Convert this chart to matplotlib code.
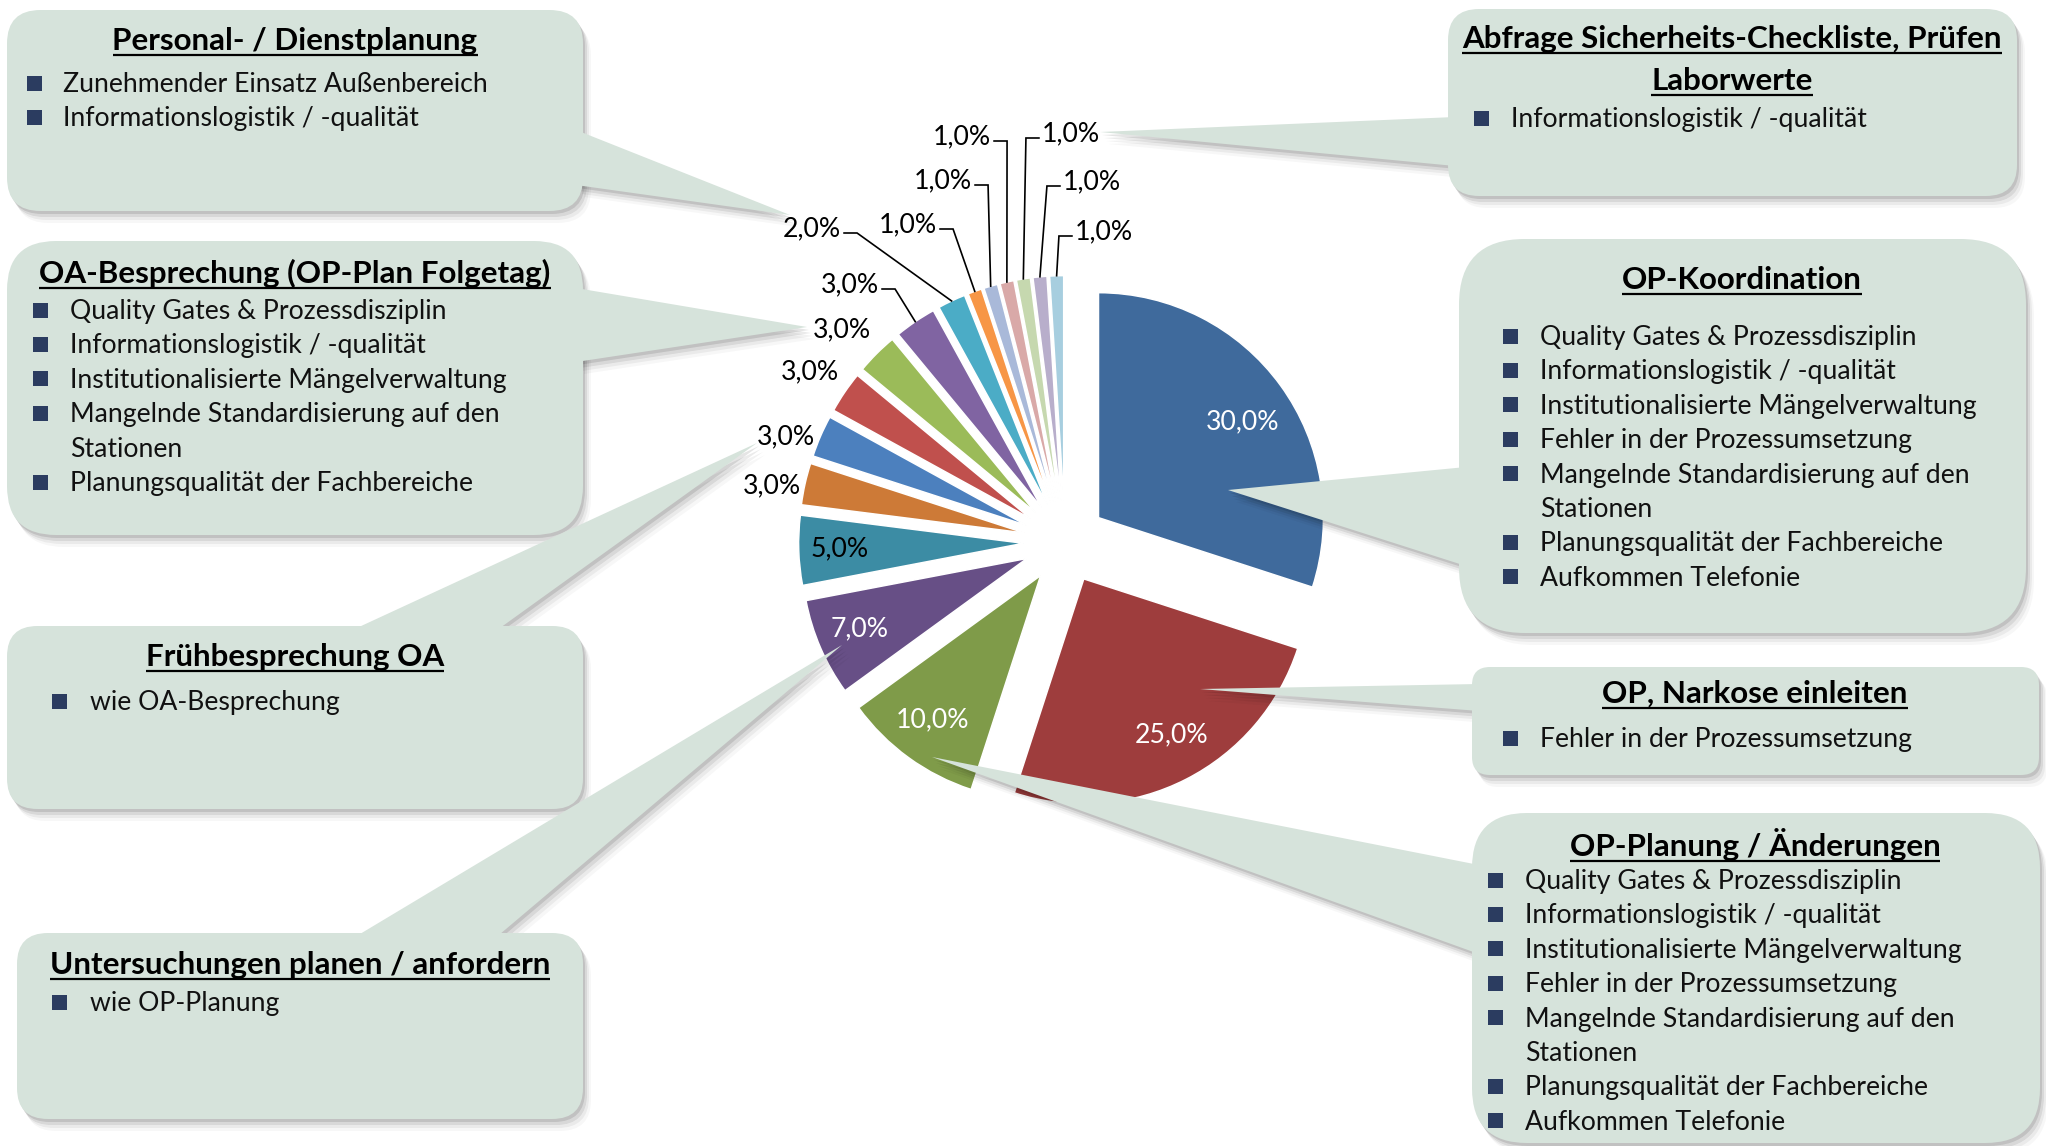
import matplotlib
matplotlib.use("Agg")
import matplotlib.pyplot as plt
from matplotlib.patches import FancyBboxPatch, Polygon, Rectangle
import numpy as np

# ---------------------------------------------------------------- data
shares = [30, 25, 10, 7, 5, 3, 3, 3, 3, 3, 2, 1, 1, 1, 1, 1, 1]
slice_colors = ["#3F6A9C", "#9E3D3D", "#7F9B49", "#674F86", "#3C8CA4", "#CD7A37",
                "#4C80BE", "#C0504D", "#9BBB59", "#8064A2", "#4BACC6", "#F79646",
                "#A9B9D9", "#D9A9A8", "#C6D8AF", "#B8AECB", "#A7CEDF"]
value_labels = [f"{v:.1f}".replace(".", ",") + "%" for v in shares]
label_colors = ["white"] * 4 + ["black"] * 13

callout_titles = [
    ["Personal- / Dienstplanung"],
    ["OA-Besprechung (OP-Plan Folgetag)"],
    ["Frühbesprechung OA"],
    ["Untersuchungen planen / anfordern"],
    ["Abfrage Sicherheits-Checkliste, Prüfen", "Laborwerte"],
    ["OP-Koordination"],
    ["OP, Narkose einleiten"],
    ["OP-Planung / Änderungen"],
]
callout_items = [
    ["Zunehmender Einsatz Außenbereich", "Informationslogistik / -qualität"],
    ["Quality Gates & Prozessdisziplin", "Informationslogistik / -qualität",
     "Institutionalisierte Mängelverwaltung",
     "Mangelnde Standardisierung auf den\nStationen",
     "Planungsqualität der Fachbereiche"],
    ["wie OA-Besprechung"],
    ["wie OP-Planung"],
    ["Informationslogistik / -qualität"],
    ["Quality Gates & Prozessdisziplin", "Informationslogistik / -qualität",
     "Institutionalisierte Mängelverwaltung", "Fehler in der Prozessumsetzung",
     "Mangelnde Standardisierung auf den\nStationen",
     "Planungsqualität der Fachbereiche", "Aufkommen Telefonie"],
    ["Fehler in der Prozessumsetzung"],
    ["Quality Gates & Prozessdisziplin", "Informationslogistik / -qualität",
     "Institutionalisierte Mängelverwaltung", "Fehler in der Prozessumsetzung",
     "Mangelnde Standardisierung auf den\nStationen",
     "Planungsqualität der Fachbereiche", "Aufkommen Telefonie"],
]

# ---------------------------------------------------------------- layout (pixels, measured from the top)
W, H = 2046, 1146
DPI = 100
FONT = "Lato"
BODY_SIZE = 19.2
TITLE_SIZE = 22.6
LINE_STEP = 34.4
BOX_FILL = "#D6E3DB"
BULLET_COLOR = "#2B3C60"
BULLET_SIZE = 15

PIE_CX, PIE_CY, PIE_R = 1065, 542, 225
EXPLODE = 0.184

# centre of every value label
label_xy = [(1243, 422), (1172, 735), (933, 720), (860, 629), (840, 549),
            (772, 486), (786, 437), (810, 372), (842, 330), (850, 285),
            (812, 229), (908, 225), (943, 181), (962, 137), (1071, 134),
            (1092, 182), (1104, 232)]
# leader lines: side of the label where the line leaves (None = no leader)
leader_side = [None] * 9 + ["right"] * 5 + ["left"] * 3

callout_layout = [
    dict(box=(7, 10, 583, 211), title=[(295, 40)], bx=34, tx=63, y0=84,
         base=[(576, 130), (576, 185)], tip=(790, 215)),
    dict(box=(7, 241, 583, 535), title=[(295, 273)], bx=40, tx=70, y0=311,
         base=[(576, 288), (576, 362)], tip=(807, 327)),
    dict(box=(7, 626, 583, 809), title=[(295, 656)], bx=59, tx=90, y0=702,
         base=[(346, 633), (493, 633)], tip=(757, 443)),
    dict(box=(17, 933, 583, 1119), title=[(300, 964)], bx=59, tx=90, y0=1003,
         base=[(350, 940), (493, 940)], tip=(842, 645)),
    dict(box=(1448, 9, 2017, 196), title=[(1732, 38), (1732, 80)], bx=1481, tx=1511, y0=119,
         base=[(1455, 117), (1455, 166)], tip=(1100, 132)),
    dict(box=(1459, 239, 2026, 633), title=[(1742, 279)], bx=1510, tx=1540, y0=337,
         base=[(1466, 467), (1466, 566)], tip=(1228, 490)),
    dict(box=(1472, 667, 2039, 775), title=[(1755, 693)], bx=1510, tx=1540, y0=739,
         base=[(1479, 684), (1479, 711)], tip=(1200, 689)),
    dict(box=(1472, 813, 2040, 1143), title=[(1755, 846)], bx=1495, tx=1525, y0=881,
         base=[(1479, 865), (1479, 954)], tip=(932, 757)),
]


def Y(y):
    """Convert a top-down pixel row into overlay data coordinates."""
    return H - y


fig = plt.figure(figsize=(W / DPI, H / DPI), dpi=DPI, facecolor="white")

# overlay axes: one data unit is one pixel
ax = fig.add_axes([0, 0, 1, 1], zorder=2)
ax.set_xlim(0, W)
ax.set_ylim(0, H)
ax.axis("off")
ax.patch.set_alpha(0)

# pie axes, one data unit equals PIE_R pixels
S = 1.3
axp = fig.add_axes([(PIE_CX - S * PIE_R) / W, (H - PIE_CY - S * PIE_R) / H,
                    2 * S * PIE_R / W, 2 * S * PIE_R / H], zorder=1)
wedges, _ = axp.pie(shares, colors=slice_colors, startangle=90, counterclock=False,
                    explode=[EXPLODE] * len(shares),
                    wedgeprops=dict(edgecolor="white", linewidth=1.1))
axp.set_xlim(-S, S)
axp.set_ylim(-S, S)
axp.set_aspect("equal")
axp.axis("off")


def pie_to_px(x, y):
    return PIE_CX + PIE_R * x, H - PIE_CY + PIE_R * y


# ---------------------------------------------------------------- callouts
def box_patch(x0, y0, x1, y1, dx=0, dy=0, **kw):
    w, h = x1 - x0, y1 - y0
    r = min(w, h) * 0.1667
    return FancyBboxPatch((x0 + dx, Y(y1) + dy), w, h,
                          boxstyle=f"round,pad=0,rounding_size={r}", **kw)


def pointer_patch(base, tip, dx=0, dy=0, **kw):
    pts = [(base[0][0] + dx, Y(base[0][1]) + dy), (tip[0] + dx, Y(tip[1]) + dy),
           (base[1][0] + dx, Y(base[1][1]) + dy)]
    return Polygon(pts, closed=True, **kw)


shadow_layers = [(2, -3, 0.10), (4, -6, 0.08), (6, -9, 0.05), (8, -12, 0.03)]
for lay in callout_layout:
    for dx, dy, a in shadow_layers:
        ax.add_patch(box_patch(*lay["box"], dx=dx, dy=dy, facecolor="black",
                               edgecolor="none", alpha=a, zorder=1))
        ax.add_patch(pointer_patch(lay["base"], lay["tip"], dx=dx, dy=dy,
                                   facecolor="black", edgecolor="none", alpha=a, zorder=1))

for lay in callout_layout:
    ax.add_patch(box_patch(*lay["box"], facecolor=BOX_FILL, edgecolor="none", zorder=2))
    ax.add_patch(pointer_patch(lay["base"], lay["tip"], facecolor=BOX_FILL,
                               edgecolor="none", zorder=2))

renderer = fig.canvas.get_renderer()

for lay, titles, items in zip(callout_layout, callout_titles, callout_items):
    for (cx, cy), line in zip(lay["title"], titles):
        t = ax.text(cx, Y(cy + 10), line, ha="center", va="baseline", fontsize=TITLE_SIZE,
                    fontweight="bold", family=FONT, color="black", zorder=4)
        bb = t.get_window_extent(renderer)
        ax.plot([bb.x0, bb.x1], [Y(cy + 15), Y(cy + 15)], color="black", lw=1.6,
                solid_capstyle="butt", zorder=4)
    row = 0
    for item in items:
        yline = lay["y0"] + row * LINE_STEP
        half = BULLET_SIZE / 2
        ax.add_patch(Rectangle((lay["bx"] - half, Y(yline - 1) - half), BULLET_SIZE, BULLET_SIZE,
                               facecolor=BULLET_COLOR, edgecolor="none", zorder=4))
        for sub in item.split("\n"):
            yline = lay["y0"] + row * LINE_STEP
            ax.text(lay["tx"], Y(yline + 8), sub, ha="left", va="baseline",
                    fontsize=BODY_SIZE, family=FONT, color="#111111", zorder=4)
            row += 1

# ---------------------------------------------------------------- value labels and leader lines
for w, txt, col, (lx, ly), side in zip(wedges, value_labels, label_colors, label_xy, leader_side):
    t = ax.text(lx, Y(ly), txt, ha="center", va="center", fontsize=BODY_SIZE,
                family=FONT, color=col, zorder=5)
    if side is None:
        continue
    bb = t.get_window_extent(renderer)
    mid = np.deg2rad(0.5 * (w.theta1 + w.theta2))
    ex, ey = pie_to_px(w.center[0] + w.r * np.cos(mid), w.center[1] + w.r * np.sin(mid))
    yl = Y(ly + 4)
    if side == "right":
        x_start = bb.x1 + 3
        x_elbow = x_start + 13
    else:
        x_start = bb.x0 - 3
        x_elbow = x_start - 13
    ax.plot([x_start, x_elbow, ex], [yl, yl, ey], color="black", lw=1.2,
            solid_joinstyle="miter", zorder=5)

fig.savefig("out.png", dpi=DPI, facecolor="white")
